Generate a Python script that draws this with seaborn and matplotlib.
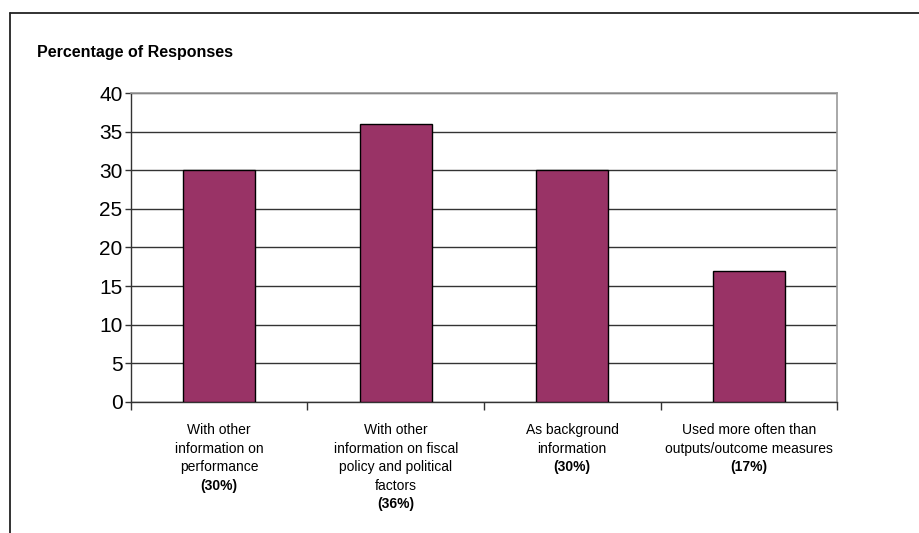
import matplotlib
matplotlib.use("Agg")
import matplotlib.pyplot as plt
import matplotlib.transforms as mtransforms
from matplotlib.lines import Line2D
import pandas as pd
import seaborn as sns

# valores
categorias = [
    "With other\ninformation on\nperformance",
    "With other\ninformation on fiscal\npolicy and political\nfactors",
    "As background\ninformation",
    "Used more often than\noutputs/outcome measures",
]
percentuais = [30, 36, 30, 17]
rotulos_pct = ["(30%)", "(36%)", "(30%)", "(17%)"]
yticks = [0, 5, 10, 15, 20, 25, 30, 35, 40]

sns.set_theme(style="white")
plt.rcParams["font.family"] = ["Liberation Sans", "DejaVu Sans"]

df = pd.DataFrame({"categoria": categorias, "pct": percentuais})

fig = plt.figure(figsize=(9.19, 5.33), dpi=100)
ax = fig.add_axes([0.1425, 0.2458, 0.7683, 0.5797])

sns.barplot(data=df, x="categoria", y="pct", color="#993366", saturation=1,
            width=0.41, edgecolor="black", linewidth=1, ax=ax, zorder=3)

ax.set_ylim(0, 40)
ax.set_xlim(-0.5, len(categorias) - 0.5)
ax.set_yticks(yticks)
ax.set_yticklabels([str(v) for v in yticks], fontsize=15, color="black")
ax.yaxis.grid(True, color="#333333", linewidth=1, zorder=0)
ax.set_xlabel("")
ax.set_ylabel("")

# ticks do eixo x nos limites das categorias
ax.set_xticks([i - 0.5 for i in range(len(categorias) + 1)])
ax.set_xticklabels([])
ax.tick_params(axis="x", bottom=True, length=6, width=1, color="#333333")
ax.tick_params(axis="y", left=True, length=4, width=1, color="#333333", pad=2)

for lado in ["left", "bottom"]:
    ax.spines[lado].set_color("#333333")
    ax.spines[lado].set_linewidth(1)
for lado in ["top", "right"]:
    ax.spines[lado].set_color("#999999")
    ax.spines[lado].set_linewidth(1.2)
    ax.spines[lado].set_visible(True)

# rótulos das categorias (texto normal + porcentagem em negrito)
trans = mtransforms.blended_transform_factory(ax.transData, ax.transAxes)
for i, (cat, pct) in enumerate(zip(categorias, rotulos_pct)):
    txt = ax.text(i, -0.068, cat, transform=trans, ha="center", va="top",
                  fontsize=10, linespacing=1.43, color="black")
    ax.annotate(pct, xy=(0.5, 0), xycoords=txt, xytext=(0, -3),
                textcoords="offset points", ha="center", va="top",
                fontsize=10, fontweight="bold", color="black")

fig.text(37 / 919, 1 - 52 / 533, "Percentage of Responses", fontsize=11.5,
         fontweight="bold", ha="left", va="center", color="black")

# moldura externa do gráfico
fig.add_artist(Line2D([10 / 919, 1.0], [1 - 13 / 533, 1 - 13 / 533],
                      transform=fig.transFigure, color="#222222", linewidth=1.3))
fig.add_artist(Line2D([10 / 919, 10 / 919], [1 - 13 / 533, 0.0],
                      transform=fig.transFigure, color="#222222", linewidth=1.3))

fig.savefig("out.png", dpi=100)
